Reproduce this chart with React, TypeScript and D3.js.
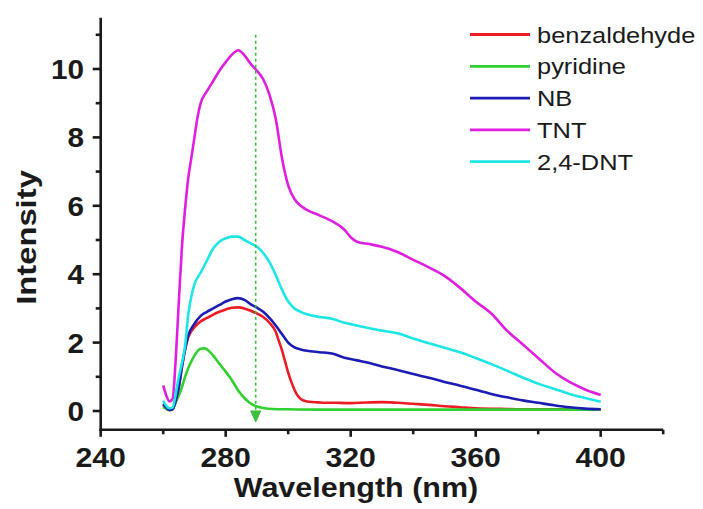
import React from "react";
import * as d3 from "d3";

// Emission spectra (intensity vs wavelength, nm)
const benzWl = [260, 261, 262, 263, 264, 265, 266, 267, 268, 270, 272, 274, 276, 278, 280, 282, 284, 286, 288, 290, 292, 294, 296, 297, 298, 299, 300, 301, 302, 303, 304, 306, 310, 315, 320, 325, 330, 335, 340, 345, 350, 355, 360, 370, 380, 390, 400];
const benzI = [0.18, 0.08, 0.03, 0.05, 0.3, 0.7, 1.3, 1.8, 2.15, 2.45, 2.62, 2.72, 2.82, 2.9, 2.97, 3.02, 3.03, 3.0, 2.93, 2.85, 2.75, 2.58, 2.32, 2.05, 1.78, 1.45, 1.12, 0.85, 0.62, 0.45, 0.35, 0.28, 0.25, 0.24, 0.23, 0.25, 0.26, 0.24, 0.21, 0.18, 0.14, 0.11, 0.08, 0.06, 0.05, 0.05, 0.04];

const pyrWl = [260, 261, 262, 263, 264, 265, 266, 267, 268, 269, 270, 271, 272, 273, 274, 275, 276, 277, 278, 280, 282, 284, 286, 288, 290, 292, 295, 300, 310, 320, 340, 360, 380, 400];
const pyrI = [0.12, 0.06, 0.02, 0.05, 0.25, 0.45, 0.7, 1.0, 1.25, 1.45, 1.62, 1.75, 1.82, 1.83, 1.8, 1.72, 1.62, 1.5, 1.38, 1.15, 0.9, 0.6, 0.38, 0.22, 0.13, 0.09, 0.06, 0.05, 0.04, 0.04, 0.04, 0.04, 0.04, 0.04];

const nbWl = [260, 261, 262, 263, 264, 265, 266, 267, 268, 270, 272, 274, 276, 278, 280, 282, 284, 286, 288, 290, 292, 294, 296, 298, 300, 302, 304, 306, 310, 314, 318, 322, 326, 330, 335, 340, 345, 350, 355, 360, 365, 370, 375, 380, 385, 390, 395, 400];
const nbI = [0.2, 0.1, 0.03, 0.05, 0.3, 0.7, 1.3, 1.8, 2.2, 2.55, 2.78, 2.9, 3.0, 3.1, 3.2, 3.27, 3.3, 3.25, 3.12, 3.02, 2.9, 2.72, 2.5, 2.25, 2.0, 1.86, 1.8, 1.76, 1.72, 1.68, 1.56, 1.48, 1.4, 1.3, 1.2, 1.08, 0.97, 0.85, 0.74, 0.62, 0.5, 0.4, 0.31, 0.24, 0.17, 0.11, 0.07, 0.05];

const tntWl = [260, 261, 262, 263, 264, 265, 266, 267, 268, 269, 270, 271, 272, 274, 276, 278, 280, 282, 284, 286, 288, 290, 292, 294, 296, 298, 300, 302, 304, 306, 310, 314, 318, 320, 322, 326, 330, 335, 340, 345, 350, 355, 360, 365, 370, 375, 380, 385, 390, 395, 400];
const tntI = [0.75, 0.45, 0.28, 0.35, 1.5, 3.2, 4.8, 5.9, 6.8, 7.4, 8.0, 8.6, 9.0, 9.35, 9.65, 9.95, 10.2, 10.42, 10.55, 10.4, 10.15, 9.95, 9.7, 9.25, 8.55, 7.4, 6.6, 6.2, 6.0, 5.88, 5.72, 5.55, 5.3, 5.08, 4.95, 4.88, 4.8, 4.65, 4.42, 4.2, 3.95, 3.6, 3.2, 2.85, 2.35, 1.95, 1.55, 1.15, 0.85, 0.63, 0.47];

const dntWl = [260, 261, 262, 263, 264, 265, 266, 267, 268, 269, 270, 272, 274, 276, 278, 280, 282, 284, 286, 288, 290, 292, 294, 296, 298, 300, 302, 304, 306, 310, 314, 318, 322, 326, 330, 335, 340, 345, 350, 355, 360, 365, 370, 375, 380, 385, 390, 395, 400];
const dntI = [0.3, 0.15, 0.08, 0.1, 0.5, 1.0, 1.4, 1.9, 2.8, 3.35, 3.7, 4.05, 4.4, 4.75, 4.95, 5.05, 5.1, 5.1, 5.0, 4.9, 4.8, 4.62, 4.35, 3.98, 3.55, 3.2, 3.0, 2.9, 2.83, 2.75, 2.7, 2.58, 2.5, 2.42, 2.35, 2.27, 2.12, 1.98, 1.85, 1.72, 1.55, 1.37, 1.18, 0.98, 0.8, 0.65, 0.5, 0.38, 0.27];

const seriesNames = ["benzaldehyde", "pyridine", "NB", "TNT", "2,4-DNT"];
const seriesColors = ["#ec1c24", "#2fd02f", "#1c1cb4", "#e01ee0", "#1ee6e6"];
const seriesWl = [benzWl, pyrWl, nbWl, tntWl, dntWl];
const seriesI = [benzI, pyrI, nbI, tntI, dntI];

const xMajorTicks = [240, 280, 320, 360, 400];
const xMinorTicks = [260, 300, 340, 380, 420];
const yMajorTicks = [0, 2, 4, 6, 8, 10];
const yMinorTicks = [1, 3, 5, 7, 9, 11];

// Marker arrow: wavelength and intensity span
const arrowWl = 289.6;
const arrowFrom = 11.0;
const arrowTo = -0.32;

const W = 703;
const H = 509;
const FONT = "'Liberation Sans', Arial, Helvetica, sans-serif";
const INK = "#1a1a1a";

export default function App() {
  const x = d3.scaleLinear().domain([240, 420]).range([100.7, 663.2]);
  const y = d3.scaleLinear().domain([-0.55, 11.5]).range([429.8, 17.7]);

  const line = d3
    .line<[number, number]>()
    .x((d) => x(d[0]))
    .y((d) => y(d[1]))
    .curve(d3.curveMonotoneX);

  const x0 = x.range()[0];
  const x1 = x.range()[1];
  const yb = y.range()[0];
  const yt = y.range()[1];

  const legendX = 470;
  const legendY0 = 34.5;
  const legendStep = 31.8;

  const ax = x(arrowWl);
  const tipY = y(arrowTo);

  return (
    <svg
      width={W}
      height={H}
      viewBox={`0 0 ${W} ${H}`}
      style={{ position: "absolute", left: 0, top: 0, background: "#fff" }}
    >
      <rect width={W} height={H} fill="#fff" />

      {/* spectra */}
      {seriesNames.map((name, i) => {
        const pts: [number, number][] = seriesWl[i].map((w, k) => [w, seriesI[i][k]]);
        return (
          <path
            key={name}
            d={line(pts) || ""}
            fill="none"
            stroke={seriesColors[i]}
            strokeWidth={2.6}
            strokeLinejoin="round"
          />
        );
      })}

      {/* dashed marker arrow */}
      <line
        x1={ax}
        x2={ax}
        y1={y(arrowFrom)}
        y2={tipY - 8}
        stroke="#3cbf3c"
        strokeWidth={1.6}
        strokeDasharray="3,3"
      />
      <path
        d={`M${ax - 5},${tipY - 11} L${ax},${tipY} L${ax + 5},${tipY - 11} Z`}
        fill="#3cbf3c"
        stroke="#3cbf3c"
        strokeWidth={1}
        strokeLinejoin="round"
      />

      {/* axes */}
      <g stroke={INK} strokeWidth={2.6} fill="none">
        <line x1={x0} x2={x0} y1={yt} y2={yb + 1.3} />
        <line x1={x0 - 1.3} x2={x1} y1={yb} y2={yb} />
        {xMajorTicks.map((t) => (
          <line key={"xM" + t} x1={x(t)} x2={x(t)} y1={yb} y2={yb + 7} />
        ))}
        {xMinorTicks.map((t) => (
          <line key={"xm" + t} x1={x(t)} x2={x(t)} y1={yb} y2={yb + 4.5} />
        ))}
        {yMajorTicks.map((t) => (
          <line key={"yM" + t} x1={x0 - 8} x2={x0} y1={y(t)} y2={y(t)} />
        ))}
        {yMinorTicks.map((t) => (
          <line key={"ym" + t} x1={x0 - 5} x2={x0} y1={y(t)} y2={y(t)} />
        ))}
      </g>

      {/* tick labels */}
      <g fill={INK} fontFamily={FONT} fontWeight="bold" fontSize={27.5}>
        {xMajorTicks.map((t) => (
          <text
            key={"xl" + t}
            textAnchor="middle"
            transform={`translate(${x(t)},466.5) scale(1.1,1)`}
          >
            {t}
          </text>
        ))}
        {yMajorTicks.map((t) => (
          <text
            key={"yl" + t}
            textAnchor="end"
            transform={`translate(84,${y(t) + 10}) scale(1.08,1)`}
          >
            {t}
          </text>
        ))}
      </g>

      {/* axis titles */}
      <text
        fill={INK}
        fontFamily={FONT}
        fontWeight="bold"
        fontSize={27}
        textAnchor="middle"
        transform="translate(356,497) scale(1.13,1)"
      >
        Wavelength (nm)
      </text>
      <text
        fill={INK}
        fontFamily={FONT}
        fontWeight="bold"
        fontSize={28.5}
        textAnchor="middle"
        transform="translate(36,237.5) rotate(-90) scale(1.15,1)"
      >
        Intensity
      </text>

      {/* legend */}
      {seriesNames.map((name, i) => {
        const ly = legendY0 + i * legendStep;
        return (
          <g key={"lg" + name}>
            <line
              x1={legendX}
              x2={legendX + 60}
              y1={ly}
              y2={ly}
              stroke={seriesColors[i]}
              strokeWidth={2.8}
            />
            <text
              fill={INK}
              fontFamily={FONT}
              fontSize={22.5}
              transform={`translate(537,${ly + 8}) scale(1.13,1)`}
            >
              {name}
            </text>
          </g>
        );
      })}
    </svg>
  );
}
